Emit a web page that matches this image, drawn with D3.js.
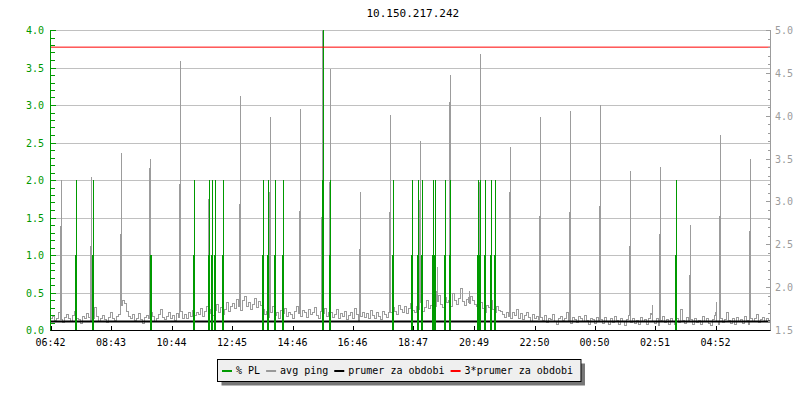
<!DOCTYPE html>
<html><head><meta charset="utf-8">
<script src="https://cdn.jsdelivr.net/npm/d3@7"></script>
<style>
body{margin:0;background:#fff}
text{font-family:"DejaVu Sans Mono",monospace;font-size:10px}
</style>
</head><body>
<svg id="c" width="800" height="400"></svg>
<script>
// ---------- data ----------
const title = "10.150.217.242";
const tickLabels = ["06:42","08:43","10:44","12:45","14:46","16:46","18:47","20:49","22:50","00:50","02:51","04:52"];
const tickMinutes = [0,121,242,363,484,604,725,847,968,1088,1209,1330];
const leftTicks = [0.0,0.5,1.0,1.5,2.0,2.5,3.0,3.5,4.0];
const rightTicks = [1.5,2.0,2.5,3.0,3.5,4.0,4.5,5.0];

// avg ping baseline (ms), one value every 4 minutes
const pingBase = [
1.63,1.66,1.61,1.64,1.70,1.62,1.59,1.65,1.68,1.63,
1.60,1.67,1.72,1.64,1.62,1.58,1.66,1.63,1.69,1.65,
1.61,1.64,1.76,1.66,1.60,1.63,1.67,1.62,1.59,1.65,
1.70,1.63,1.61,1.66,1.68,
1.79,1.85,1.81,
1.72,1.66,1.63,1.68,1.61,1.64,1.69,1.62,1.58,1.65,
1.67,1.63,1.71,1.66,1.60,1.64,1.68,1.74,1.65,1.62,
1.66,1.70,1.63,1.67,1.61,1.69,1.65,1.72,1.64,1.68,
1.63,1.70,1.66,1.73,1.67,
1.71,1.68,1.75,1.66,1.72,1.78,1.69,1.74,1.67,1.73,
1.80,1.70,1.76,1.68,1.74,1.82,1.72,1.77,
1.81,1.75,1.86,1.78,1.73,1.84,1.89,1.77,1.82,1.74,
1.80,1.87,1.76,1.83,1.79,
1.74,1.68,1.72,1.65,1.71,1.77,1.67,1.70,1.64,1.73,
1.69,1.75,1.66,1.71,1.68,1.63,1.72,1.78,1.69,1.66,
1.73,1.70,1.65,1.74,1.68,1.71,1.76,1.67,1.64,1.72,
1.69,1.75,1.66,1.70,
1.71,1.65,1.68,1.74,1.63,1.69,1.66,1.72,1.62,1.67,
1.70,1.64,1.75,1.68,1.61,1.66,1.71,1.65,1.69,1.63,
1.73,1.67,1.64,1.70,1.66,1.62,1.72,1.68,1.65,1.71,
1.70,1.76,1.72,1.68,1.79,1.74,1.71,1.77,1.69,1.75,
1.81,1.73,1.70,1.78,1.74,1.82,1.72,1.76,1.84,1.75,
1.79,1.86,1.77,1.83,1.90,1.80,1.76,1.88,1.82,1.85,
1.78,1.93,1.84,1.80,1.87,1.98,1.83,1.79,1.86,1.81,
1.89,1.84,1.80,
1.78,1.73,1.82,1.75,1.71,1.79,1.76,1.84,1.74,1.70,
1.77,1.73,
1.72,1.68,1.65,1.71,1.66,1.63,1.70,1.67,1.74,1.64,
1.69,1.62,1.67,1.71,1.65,1.60,1.68,1.64,1.66,1.62,
1.65,1.61,1.67,1.59,1.64,1.62,1.68,1.60,1.57,1.63,
1.66,1.61,1.64,1.70,1.60,1.58,1.65,1.62,1.59,1.66,
1.63,1.60,1.67,1.61,1.56,1.64,1.62,1.58,1.65,1.61,
1.62,1.58,1.65,1.60,1.56,1.63,1.59,1.66,1.61,1.57,
1.64,1.60,1.55,1.62,1.67,1.59,1.63,1.58,1.61,1.56,
1.65,1.60,1.62,1.57,1.64,1.69,1.60,1.58,1.63,1.55,
1.61,1.66,1.59,1.62,1.57,1.64,1.60,1.56,1.63,1.59,
1.74,1.61,1.58,1.65,1.60,1.62,1.56,1.64,1.59,1.61,
1.57,1.66,1.60,1.63,1.58,1.55,1.62,1.67,1.60,1.57,
1.64,1.59,1.62,1.70,1.61,1.58,1.63,1.56,1.65,1.60,
1.62,1.58,1.66,1.61,1.57,1.64,1.60,1.63,1.68,1.59,
1.62,1.65,1.60,1.63,1.61
];
const baseStep = 4; // minutes per baseline value

// ping spikes: time (minutes from start), peak value, value of the sample just before
const spikeTimes   = [22,82,142,200,260,318,380,440,500,544,560,620,680,740,774,800,838,860,920,980,1040,1100,1160,1204,1220,1280,1332,1340,1400];
const spikePeaks   = [3.25,3.29,3.56,3.49,4.64,3.07,4.23,3.99,4.08,5.00,4.55,3.11,4.01,3.71,2.24,4.47,1.96,4.72,3.63,3.99,4.06,4.12,3.36,1.79,3.40,2.73,1.83,3.77,3.50];
const spikeBefore  = [2.71,2.47,2.62,3.38,3.20,3.02,2.97,3.10,2.88,2.81,3.22,2.44,2.87,3.01,1.95,4.16,1.88,3.22,3.10,2.82,2.87,2.94,2.47,1.68,2.61,2.14,1.70,2.82,2.65];

// % packet loss events: time, peak value, value of neighbouring sample
const plTimes = [52,86,202,288,318,324,330,346,426,436,450,466,546,560,686,724,736,744,766,770,790,800,856,860,870,882,890,1252];
const plHigh  = [2,2,1,2,2,2,2,2,2,2,2,2,4,2,2,2,2,2,2,2,2,2,2,2,2,2,2,2];
const plLow   = [1,1,1,1,1,1,1,1,1,1,1,1,2,1,1,1,1,1,1,1,1,1,1,1,1,1,1,1];

const meanPing = 1.6;
const tripleMean = 4.8;
const legendLabels = ["% PL","avg ping","prumer za obdobi","3*prumer za obdobi"];
const legendColors = ["#009900","#999999","#000000","#ff0000"];

// ---------- drawing ----------
const svg = d3.select("#c");
const L = 50.5, R = 770.5, T = 30, B = 330;
const x = d3.scaleLinear().domain([0,1440]).range([L,R]);
const yL = d3.scaleLinear().domain([0,4]).range([B,T]);
const yR = d3.scaleLinear().domain([1.5,5]).range([B,T]);
const GREEN = "#009900", GRAY = "#9c9c9c";

svg.append("rect").attr("width",800).attr("height",400).attr("fill","#fff");

// title
svg.append("text").attr("x",366.5).attr("y",17).attr("text-anchor","start")
  .style("font-size","11px").attr("fill","#000").text(title);

// grid
svg.append("g").selectAll("line").data(leftTicks.filter(d=>d>0)).join("line")
  .attr("x1",L).attr("x2",R).attr("y1",d=>Math.round(yL(d))+0.5).attr("y2",d=>Math.round(yL(d))+0.5)
  .attr("stroke","#c0c0c0").attr("stroke-width",1);

// ping series (step line, one step per sample; spikes rise and fall in one pixel column)
const baseAt = t => pingBase[Math.max(0,Math.min(pingBase.length-1, Math.floor(t/baseStep)))];
const pts = pingBase.map((v,i)=>({t:i*baseStep, v, o:0}));
spikeTimes.forEach((t,i)=>{
  pts.push({t:t-2, v:spikeBefore[i], o:1});
  pts.push({t:t,   v:spikePeaks[i], o:2});
  pts.push({t:t,   v:baseAt(t), o:3});
});
pts.sort((a,b)=> a.t-b.t || a.o-b.o);
pts.push({t:1440, v:pingBase[pingBase.length-1]});
const pingLine = d3.line().x(d=>x(d.t)).y(d=>yR(d.v)).curve(d3.curveStepAfter);
svg.append("path").datum(pts).attr("d",pingLine).attr("fill","none")
  .attr("stroke",GRAY).attr("stroke-width",1).attr("shape-rendering","crispEdges");

// mean line
svg.append("line").attr("x1",L).attr("x2",R).attr("y1",yR(meanPing)).attr("y2",yR(meanPing))
  .attr("stroke","#000").attr("stroke-width",2);

// packet loss
const plPts = [{t:0,v:0}];
plTimes.forEach((t,i)=>{
  plPts.push({t:t-2,v:0},{t:t-2,v:plLow[i]},{t:t,v:plLow[i]},{t:t,v:plHigh[i]},{t:t,v:0});
});
plPts.push({t:1440,v:0});
const plLine = d3.line().x(d=>x(d.t)).y(d=>yL(d.v));
svg.append("path").datum(plPts).attr("d",plLine).attr("fill","none")
  .attr("stroke",GREEN).attr("stroke-width",1).attr("shape-rendering","crispEdges");

// 3*mean line
svg.append("line").attr("x1",L).attr("x2",R).attr("y1",yR(tripleMean)).attr("y2",yR(tripleMean))
  .attr("stroke","#ff0000").attr("stroke-width",1);

// left axis
const gl = svg.append("g");
gl.append("line").attr("x1",L).attr("x2",L).attr("y1",T).attr("y2",B+1).attr("stroke",GREEN);
const leftMinor = d3.range(0,41).map(i=>i/10);
gl.selectAll("line.m").data(leftMinor).join("line").attr("class","m")
  .attr("x1",L).attr("x2",d=> (Math.round(d*10)%5===0)? L+5 : L+4)
  .attr("y1",d=>Math.round(yL(d))+0.5).attr("y2",d=>Math.round(yL(d))+0.5).attr("stroke",GREEN)
  .attr("shape-rendering","crispEdges");
gl.selectAll("text").data(leftTicks).join("text")
  .attr("x",44).attr("y",d=>yL(d)+4).attr("text-anchor","end").attr("fill",GREEN)
  .text(d=>d.toFixed(1));

// right axis
const gr = svg.append("g");
gr.append("line").attr("x1",R).attr("x2",R).attr("y1",T).attr("y2",B).attr("stroke",GRAY);
const rightMinor = d3.range(15,51).map(i=>i/10);
gr.selectAll("line.m").data(rightMinor).join("line").attr("class","m")
  .attr("x1",d=> (Math.round(d*10)%5===0)? R-5 : R-3).attr("x2",R)
  .attr("y1",d=>Math.round(yR(d))+0.5).attr("y2",d=>Math.round(yR(d))+0.5).attr("stroke",GRAY)
  .attr("shape-rendering","crispEdges");
gr.selectAll("text").data(rightTicks).join("text")
  .attr("x",775).attr("y",d=>yR(d)+4).attr("text-anchor","start").attr("fill",GRAY)
  .text(d=>d.toFixed(1));

// bottom axis
const gb = svg.append("g");
gb.append("line").attr("x1",L).attr("x2",R).attr("y1",B+0.5).attr("y2",B+0.5).attr("stroke","#000");
gb.selectAll("line.t").data(tickMinutes).join("line").attr("class","t")
  .attr("x1",d=>Math.round(x(d))+0.5).attr("x2",d=>Math.round(x(d))+0.5).attr("y1",B-4).attr("y2",B+1)
  .attr("stroke","#000").attr("shape-rendering","crispEdges");
gb.selectAll("text").data(tickMinutes).join("text")
  .attr("x",d=>x(d)).attr("y",346).attr("text-anchor","middle").attr("fill","#000")
  .text((d,i)=>tickLabels[i]);

// legend
const lg = svg.append("g");
const shadow = lg.append("rect").attr("fill","#777");
const box = lg.append("rect").attr("fill","#efefef").attr("stroke","#000").attr("stroke-width",1);
let cx = 222;
legendLabels.forEach((lab,i)=>{
  lg.append("line").attr("x1",cx).attr("x2",cx+10).attr("y1",371).attr("y2",371)
    .attr("stroke",legendColors[i]).attr("stroke-width",2);
  const tx = lg.append("text").attr("x",cx+14).attr("y",374).attr("fill","#000").text(lab);
  cx += 14 + tx.node().getComputedTextLength() + 6;
});
const bx = 217.5, by = 359.5, bw = Math.max(363, (cx + 2) - bx), bh = 22;
box.attr("x",bx).attr("y",by).attr("width",bw).attr("height",bh);
shadow.attr("x",bx+4).attr("y",by+4).attr("width",bw).attr("height",bh);
</script>
</body></html>
